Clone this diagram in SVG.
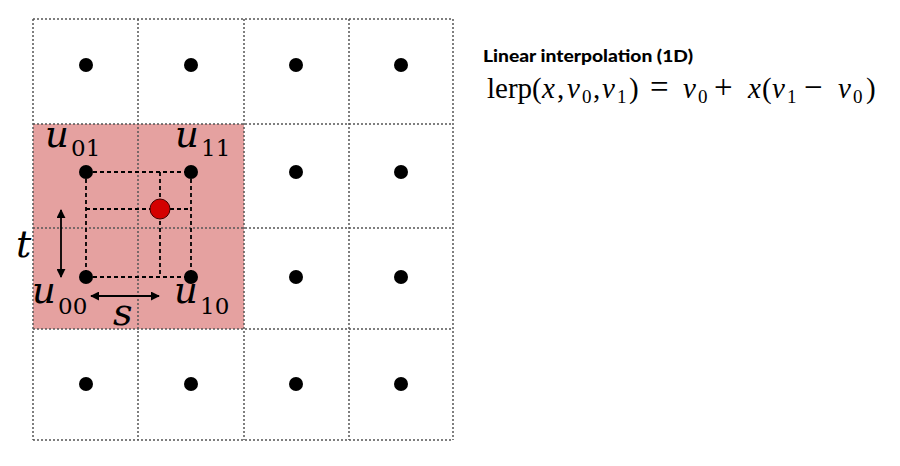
<svg xmlns="http://www.w3.org/2000/svg" width="900" height="466" viewBox="0 0 900 466">
<defs>
<style>
.grid{stroke:#555;stroke-width:1.5;stroke-dasharray:2 2;fill:none}
.dash{stroke:#000;stroke-width:1.8;stroke-dasharray:4 3;fill:none}
.dot{fill:#000}
.arr{stroke:#000;stroke-width:1.8;fill:none;marker-start:url(#ah);marker-end:url(#ah)}
.m{font-family:"DejaVu Serif","Liberation Serif",serif;font-style:italic;font-size:37px;fill:#000}
.big{font-size:38px}
.sub{font-family:"DejaVu Serif","Liberation Serif",serif;font-style:normal;font-size:23px;fill:#000}
.f{font-family:"Liberation Serif","DejaVu Serif",serif;font-size:29px;fill:#000}
.fi{font-style:italic}
.fs{font-size:19px}
.op{font-size:33px}
.title{font-family:"Lato","Liberation Sans",sans-serif;font-weight:900;font-size:17px;fill:#000}
</style>
<marker id="ah" viewBox="0 0 10 10" refX="9" refY="5" markerWidth="5" markerHeight="5" orient="auto-start-reverse" markerUnits="strokeWidth">
<path d="M0,0 L10,5 L0,10 z" fill="#000"/>
</marker>
</defs>
<rect width="900" height="466" fill="#fff"/>
<rect id="highlight" x="33" y="124" width="211" height="205" fill="#e5a1a0"/>
<g id="grid">
<line class="grid" x1="33" y1="19" x2="33" y2="440"/>
<line class="grid" x1="138" y1="19" x2="138" y2="440"/>
<line class="grid" x1="244" y1="19" x2="244" y2="440"/>
<line class="grid" x1="349" y1="19" x2="349" y2="440"/>
<line class="grid" x1="453" y1="19" x2="453" y2="440"/>
<line class="grid" x1="33" y1="19" x2="453" y2="19"/>
<line class="grid" x1="33" y1="124" x2="453" y2="124"/>
<line class="grid" x1="33" y1="228" x2="453" y2="228"/>
<line class="grid" x1="33" y1="329" x2="453" y2="329"/>
<line class="grid" x1="33" y1="440" x2="453" y2="440"/>
</g>
<g id="connectors">
<path class="dash" d="M86,172 H191 M86,172 V277 M86,277 H191 M191,172 V277 M160,172 V277 M86,209 H191"/>
<line class="arr" x1="61" y1="210" x2="61" y2="277"/>
<line class="arr" x1="91" y1="296" x2="159" y2="296"/>
</g>
<g id="samples">
<circle class="dot" cx="86" cy="65" r="7"/><circle class="dot" cx="191" cy="65" r="7"/><circle class="dot" cx="296" cy="65" r="7"/><circle class="dot" cx="401" cy="65" r="7"/>
<circle class="dot" cx="296" cy="172" r="7"/><circle class="dot" cx="401" cy="172" r="7"/>
<circle class="dot" cx="296" cy="277" r="7"/><circle class="dot" cx="401" cy="277" r="7"/>
<circle class="dot" cx="86" cy="384" r="7"/><circle class="dot" cx="191" cy="384" r="7"/><circle class="dot" cx="296" cy="384" r="7"/><circle class="dot" cx="401" cy="384" r="7"/>
</g>
<g id="u01"><circle class="dot" cx="86" cy="172" r="7"/><text class="m" x="45" y="147">u<tspan class="sub" x="71" y="156">01</tspan></text></g>
<g id="u11"><circle class="dot" cx="191" cy="172" r="7"/><text class="m" x="175" y="147">u<tspan class="sub" x="201" y="156">11</tspan></text></g>
<g id="u00"><circle class="dot" cx="86" cy="277" r="7"/><text class="m" x="32" y="303">u<tspan class="sub" x="58" y="314">00</tspan></text></g>
<g id="u10"><circle class="dot" cx="191" cy="277" r="7"/><text class="m" x="174" y="303">u<tspan class="sub" x="200" y="314">10</tspan></text></g>
<g id="p"><circle cx="160" cy="209" r="10" fill="#d40000" stroke="#400" stroke-width="1"/></g>
<g id="t-label"><text class="m big" x="16" y="257">t</text></g>
<g id="s-label"><text class="m big" x="113" y="325">s</text></g>
<g id="title"><text class="title" x="483" y="62" textLength="210" lengthAdjust="spacingAndGlyphs">Linear interpolation (1D)</text></g>
<g id="formula">
<text class="f" y="98"><tspan x="487">lerp(</tspan><tspan class="fi" x="542">x</tspan><tspan x="557">,</tspan><tspan class="fi" x="567">v</tspan><tspan class="fs" x="582" y="103">0</tspan><tspan x="593" y="98">,</tspan><tspan class="fi" x="602">v</tspan><tspan class="fs" x="617" y="103">1</tspan><tspan x="629" y="98">)</tspan><tspan class="op" x="650">=</tspan><tspan class="fi" x="683">v</tspan><tspan class="fs" x="698" y="103">0</tspan><tspan class="op" x="714" y="98">+</tspan><tspan class="fi" x="748">x</tspan><tspan x="762">(</tspan><tspan class="fi" x="772">v</tspan><tspan class="fs" x="787" y="103">1</tspan><tspan class="op" x="804" y="98">−</tspan><tspan class="fi" x="838">v</tspan><tspan class="fs" x="853" y="103">0</tspan><tspan x="866" y="98">)</tspan></text>
</g>
</svg>
